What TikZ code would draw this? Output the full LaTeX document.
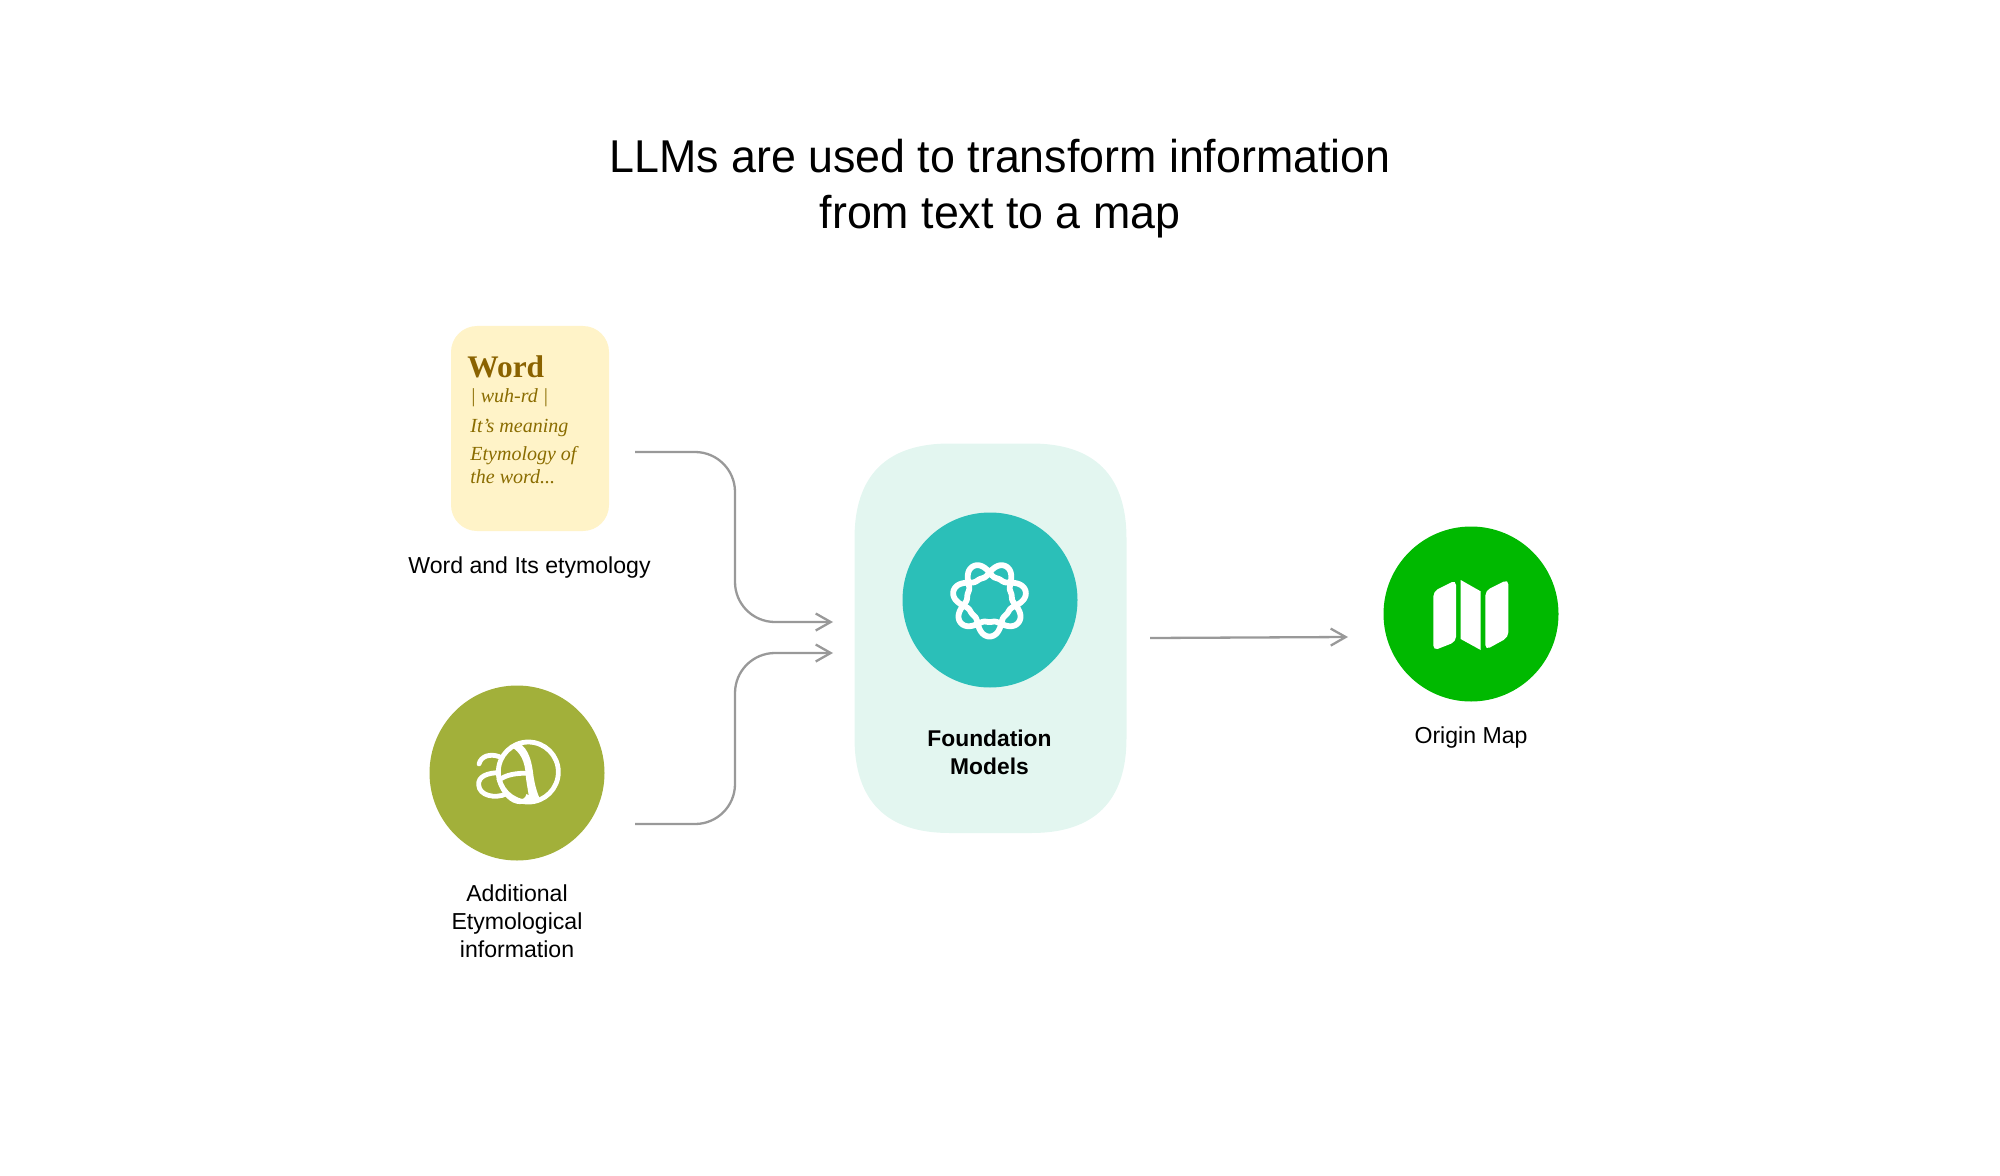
\documentclass[tikz,border=0pt]{standalone}
\usepackage{fontspec}
\setmainfont{Liberation Sans}
\newfontfamily\cardserif{Liberation Serif}
\newfontfamily\titlefont[FakeStretch=0.973]{Liberation Sans}
\usetikzlibrary{arrows.meta}
\definecolor{cardfill}{HTML}{FFF3C8}
\definecolor{cardtext}{HTML}{8A6200}
\definecolor{cardital}{HTML}{8A6C00}
\definecolor{fndfill}{HTML}{E3F6F0}
\definecolor{tealc}{HTML}{2BBFB8}
\definecolor{greenc}{HTML}{00B900}
\definecolor{olivec}{HTML}{A2B03A}
\definecolor{connc}{HTML}{999999}
\tikzset{
  disc/.style={circle,minimum size=87.5pt,inner sep=0pt,draw=none},
  lab/.style={font=\fontsize{11.55}{14}\selectfont,align=center,inner sep=0pt,text=black},
  conn/.style={draw=connc,line width=1.15pt,rounded corners=20pt,-{Straight Barb[length=7.5pt,width=8.5pt,line width=1.15pt]}},
  ctitle/.style={font=\cardserif\bfseries\fontsize{15.7}{18}\selectfont,text=cardtext,anchor=base west,inner sep=0pt},
  cital/.style={font=\cardserif\itshape\fontsize{10}{11.5}\selectfont,text=cardital,anchor=base west,inner sep=0pt,align=left},
  iconline/.style={draw=white,line width=2.4pt,line cap=round}
}
\begin{document}
\begin{tikzpicture}[x=0.5pt,y=-0.5pt]
\useasboundingbox (0,0) rectangle (2000,1176);
% title
\node[font=\titlefont\fontsize{23}{28}\selectfont,align=center,inner sep=0pt] (title) at (1000,189) {LLMs are used to transform information\\from text to a map};
% word card
\node[fill=cardfill,rounded corners=13pt,minimum width=79pt,minimum height=102.5pt,inner sep=0pt] (word) at (530,428.5) {};
\node[ctitle] (w1) at (467,378) {Word};
\node[cital] (w2) at (470,402) {| wuh-rd |};
\node[cital] (w3) at (470,432) {It’s meaning};
\node[cital] (w4) at (470,483) {Etymology of\\the word...};
\node[lab] (wl) at (529.5,567.5) {Word and Its etymology};
% olive circle
\node[disc,fill=olivec] (add) at (517,773) {};
\begin{scope}[shift={(470,730)},x=0.16667pt,y=-0.16667pt]
  \draw[iconline] (175,126) circle (90);
  \draw[iconline] (27,102) .. controls (33,78) and (60,70) .. (88,80);
  \draw[iconline,line cap=butt] (90,128) .. controls (50,128) and (24,140) .. (26,165) .. controls (28,197) and (75,207) .. (108,192);
  \draw[iconline,line cap=butt] (176,130) .. controls (140,128) and (105,135) .. (88,150) .. controls (100,190) and (125,215) .. (150,215) .. controls (165,215) and (172,208) .. (176,195);
  \begin{scope}
    \clip (175,126) circle (93);
    \fill[white] (135,36) .. controls (168,42) and (184,80) .. (190,135) .. controls (195,170) and (203,195) .. (218,225) -- (176,225) -- (176,195) .. controls (172,170) and (168,150) .. (167,135) .. controls (165,95) and (152,65) .. (122,50) -- cycle;
  \end{scope}
\end{scope}
\node[lab] (al) at (517,921.5) {Additional\\Etymological\\information};
% foundation box
\fill[fndfill] (854.5,538.5) .. controls (854.5,475.5) and (886.5,443.5) .. (949.5,443.5) -- (1031.5,443.5) .. controls (1094.5,443.5) and (1126.5,475.5) .. (1126.5,538.5) -- (1126.5,738) .. controls (1126.5,801) and (1094.5,833) .. (1031.5,833) -- (949.5,833) .. controls (886.5,833) and (854.5,801) .. (854.5,738) -- cycle;
\node[disc,fill=tealc] (llm) at (990,600) {};
\begin{scope}[shift={(989.5,599.5)},x=0.5pt,y=-0.5pt]
  \draw[iconline,line width=2.9pt,line join=round] plot[domain=0:720,samples=361,variable=\t] ({(28.4+7.7*(cos(3.5*(\t-90))-0.06*cos(10.5*(\t-90)))+1.4*cos(7*(\t-90)))*cos(\t)},{(28.4+7.7*(cos(3.5*(\t-90))-0.06*cos(10.5*(\t-90)))+1.4*cos(7*(\t-90)))*sin(\t)}) -- cycle;
\end{scope}
\node[lab,font=\bfseries\fontsize{11.4}{14}\selectfont] (fl) at (989.5,752.5) {Foundation\\Models};
% map
\node[disc,fill=greenc] (map) at (1471,614) {};
\begin{scope}[shift={(1380,520)},x=0.16667pt,y=-0.16667pt]
  \fill[white,rounded corners=2.5pt] (160,214) -- (228,180) -- (228,365) -- (160,392) -- cycle;
  \fill[white] (242,180) -- (302,214) -- (302,390) -- (242,357) -- cycle;
  \fill[white,rounded corners=2.5pt] (316,212) -- (385,178) -- (385,352) -- (316,390) -- cycle;
\end{scope}
\node[lab] (ml) at (1471,737.5) {Origin Map};
% connectors
\coordinate (a1s) at (635,452);
\coordinate (a1b) at (735,622);
\coordinate (a1e) at (833,622);
\coordinate (a2s) at (635,824);
\coordinate (a2b) at (735,653);
\coordinate (a2e) at (833,653);
\coordinate (a3s) at (1150,638);
\coordinate (a3e) at (1348,637);
\draw[conn] (a1s) -| (a1b) -- (a1e);
\draw[conn] (a2s) -| (a2b) -- (a2e);
\draw[conn] (a3s) -- (a3e);
\end{tikzpicture}
\end{document}
